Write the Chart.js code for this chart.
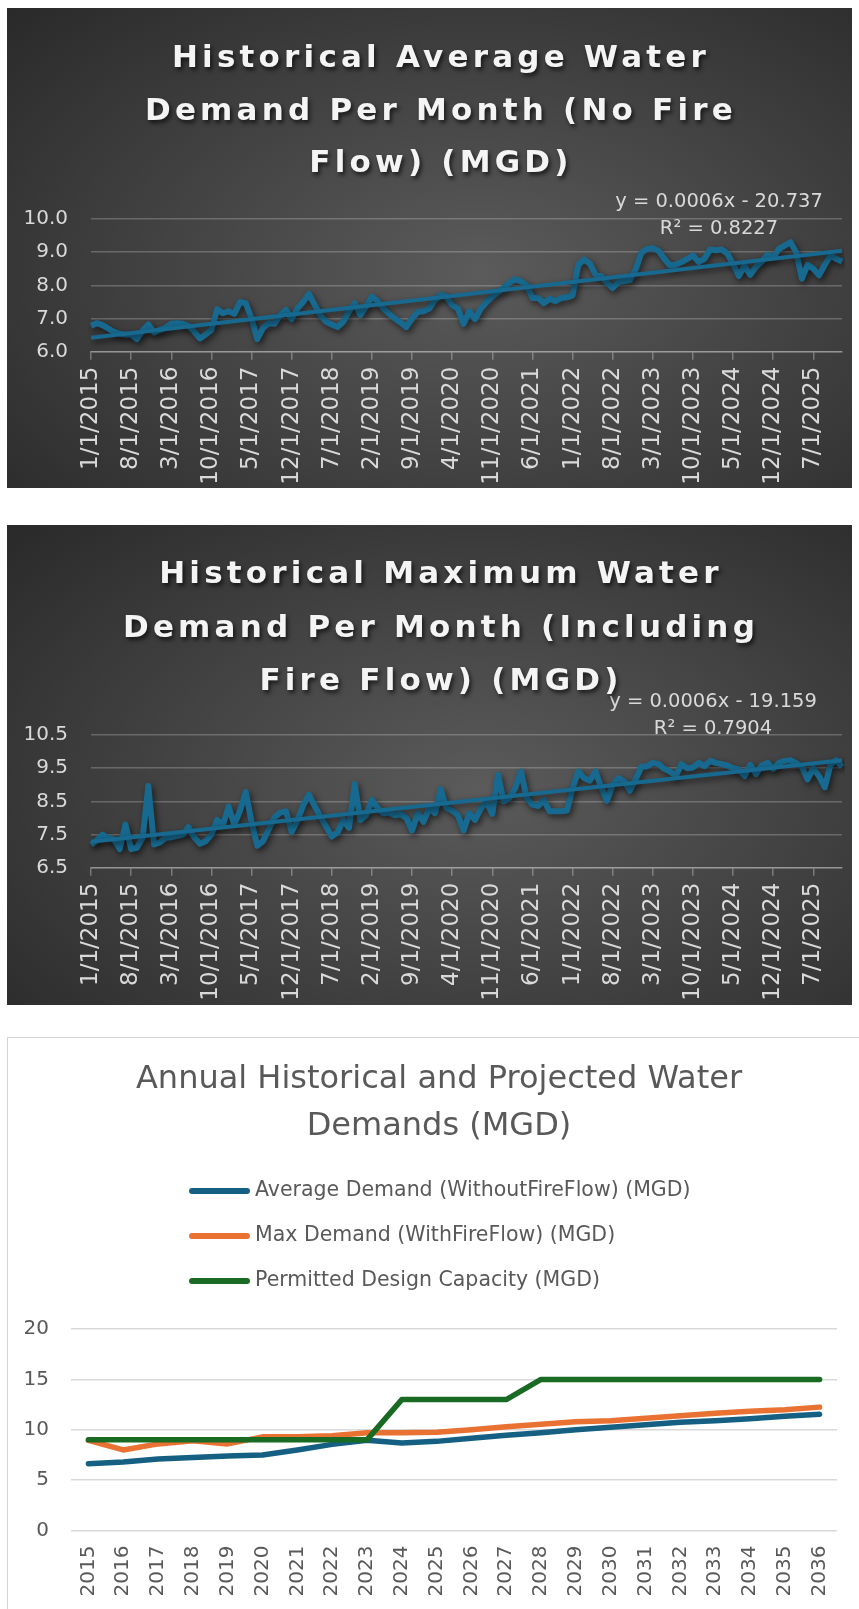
<!DOCTYPE html>
<html>
<head>
<meta charset="utf-8">
<script src="https://cdn.jsdelivr.net/npm/chart.js@4.4.1/dist/chart.umd.min.js"></script>
<style>
  html, body { margin: 0; padding: 0; background: #fff; overflow: hidden; }
  body { width: 859px; height: 1609px; position: relative; }
  .dark {
    position: absolute; left: 7px; width: 845px; height: 480px;
    background: radial-gradient(ellipse 75% 80% at 56% 55%, #5b5b5b 0%, #454545 45%, #2a2a2a 100%);
  }
  .dark canvas, #p3 canvas { position: absolute; left: 0; top: 0; }
  .dark .title {
    position: absolute; left: 23px; right: 0; text-align: center;
    color: #f4f4f4; font: bold 31px 'DejaVu Sans', sans-serif; letter-spacing: 4.2px;
    text-shadow: 2px 3px 4px rgba(0,0,0,0.65); z-index: 2;
  }
  #p1 { top: 8px; }
  #p1 .title { top: 22px; line-height: 52.5px; }
  #p2 { top: 525px; }
  #p2 .title { top: 21px; line-height: 53.5px; }
  #p3 {
    position: absolute; left: 7px; top: 1037px; width: 900px; height: 620px;
    border: 1px solid #d4d4d4; background: #fff;
  }
</style>
</head>
<body>
<div class="dark" id="p1">
  <div class="title">Historical Average Water<br>Demand Per Month (No Fire<br>Flow) (MGD)</div>
  <canvas id="avgChart" width="845" height="480"></canvas>
</div>
<div class="dark" id="p2">
  <div class="title">Historical Maximum Water<br>Demand Per Month (Including<br>Fire Flow) (MGD)</div>
  <canvas id="maxChart" width="845" height="480"></canvas>
</div>
<div id="p3">
  <canvas id="annualChart" width="851" height="571"></canvas>
</div>
<script>
// month categories 1/1/2015 .. 12/1/2025
const monthLabels = [];
for (let y = 2015; y <= 2025; y++) {
    for (let m = 1; m <= 12; m++) monthLabels.push(m + '/1/' + y);
}

const avgMonthly = [
    6.78, 6.86, 6.80, 6.70, 6.60, 6.54, 6.52, 6.52, 6.38, 6.64, 6.82, 6.58,
    6.66, 6.72, 6.84, 6.86, 6.84, 6.78, 6.60, 6.40, 6.52, 6.66, 7.28, 7.16,
    7.22, 7.14, 7.50, 7.46, 7.00, 6.38, 6.72, 6.86, 6.84, 7.10, 7.26, 6.98,
    7.30, 7.50, 7.74, 7.42, 7.10, 6.90, 6.82, 6.74, 6.90, 7.22, 7.46, 7.10,
    7.36, 7.66, 7.52, 7.30, 7.14, 7.00, 6.88, 6.74, 7.00, 7.20, 7.22, 7.30,
    7.56, 7.72, 7.66, 7.40, 7.30, 6.84, 7.22, 6.98, 7.30, 7.50, 7.66, 7.80,
    7.92, 8.08, 8.18, 8.12, 8.00, 7.62, 7.62, 7.46, 7.60, 7.52, 7.62, 7.64,
    7.70, 8.62, 8.78, 8.66, 8.32, 8.28, 8.08, 7.92, 8.10, 8.13, 8.16, 8.48,
    8.98, 9.10, 9.12, 9.04, 8.80, 8.60, 8.62, 8.70, 8.80, 8.90, 8.70, 8.80,
    9.08, 9.06, 9.08, 8.96, 8.64, 8.28, 8.58, 8.32, 8.56, 8.72, 8.92, 8.84,
    9.10, 9.20, 9.30, 9.00, 8.20, 8.62, 8.50, 8.30, 8.62, 8.90, 8.80, 8.72
];

const maxMonthly = [
    7.20, 7.32, 7.50, 7.40, 7.36, 7.06, 7.80, 7.06, 7.10, 7.40, 8.96, 7.20,
    7.26, 7.40, 7.42, 7.46, 7.50, 7.72, 7.42, 7.22, 7.30, 7.50, 7.94, 7.78,
    8.34, 7.80, 8.22, 8.78, 7.88, 7.16, 7.30, 7.66, 8.02, 8.16, 8.20, 7.58,
    7.92, 8.38, 8.70, 8.36, 8.04, 7.74, 7.44, 7.56, 7.94, 7.70, 9.02, 7.94,
    8.08, 8.54, 8.30, 8.14, 8.16, 8.08, 8.12, 8.00, 7.62, 8.14, 7.88, 8.30,
    8.14, 8.86, 8.30, 8.22, 8.08, 7.62, 8.14, 7.94, 8.30, 8.48, 8.12, 9.30,
    8.50, 8.60, 8.90, 9.40, 8.60, 8.40, 8.36, 8.54, 8.20, 8.20, 8.20, 8.22,
    8.90, 9.40, 9.20, 9.12, 9.40, 8.92, 8.52, 9.00, 9.20, 9.10, 8.82, 9.16,
    9.54, 9.56, 9.66, 9.62, 9.48, 9.40, 9.26, 9.62, 9.50, 9.52, 9.66, 9.56,
    9.72, 9.66, 9.62, 9.58, 9.50, 9.46, 9.26, 9.60, 9.32, 9.58, 9.66, 9.48,
    9.66, 9.72, 9.74, 9.66, 9.54, 9.16, 9.50, 9.26, 8.92, 9.62, 9.74, 9.54
];

// linear trendline ends (first and last month)
const avgTrend = [6.42, 9.04];
const maxTrend = [7.28, 9.74];
const avgTrendText = ['y = 0.0006x - 20.737', 'R\u00B2 = 0.8227'];
const maxTrendText = ['y = 0.0006x - 19.159', 'R\u00B2 = 0.7904'];

const avgYTicks = [6, 7, 8, 9, 10];
const maxYTicks = [6.5, 7.5, 8.5, 9.5, 10.5];
const monthTickEvery = 7;

const years = ['2015', '2016', '2017', '2018', '2019', '2020', '2021', '2022', '2023', '2024', '2025',
    '2026', '2027', '2028', '2029', '2030', '2031', '2032', '2033', '2034', '2035', '2036'];
const avgAnnual = [6.64, 6.80, 7.10, 7.25, 7.40, 7.50, 8.00, 8.55, 8.95, 8.70, 8.85,
    9.15, 9.45, 9.70, 10.00, 10.25, 10.50, 10.75, 10.90, 11.10, 11.35, 11.55];
const maxAnnual = [8.95, 8.00, 8.60, 8.90, 8.60, 9.30, 9.30, 9.40, 9.70, 9.70, 9.75,
    10.00, 10.30, 10.55, 10.80, 10.90, 11.15, 11.40, 11.65, 11.85, 12.00, 12.25];
const permitted = [9, 9, 9, 9, 9, 9, 9, 9, 9, 13, 13, 13, 13, 15, 15, 15, 15, 15, 15, 15, 15, 15];
const annualYTicks = [0, 5, 10, 15, 20];

Chart.defaults.font.family = "'DejaVu Sans', sans-serif";
Chart.defaults.animation = false;

const lineShadow = {
    id: 'lineShadow',
    beforeDatasetsDraw(chart) {
        const c = chart.ctx;
        c.save();
        c.shadowColor = 'rgba(0,0,0,0.6)';
        c.shadowBlur = 6;
        c.shadowOffsetX = 2;
        c.shadowOffsetY = 3;
    },
    afterDatasetsDraw(chart) {
        chart.ctx.restore();
    }
};

const trendLabel = {
    id: 'trendLabel',
    afterDraw(chart, args, opts) {
        const c = chart.ctx;
        c.save();
        c.font = opts.textFont;
        c.fillStyle = opts.color;
        c.textAlign = 'center';
        c.textBaseline = 'middle';
        opts.lines.forEach((t, i) => c.fillText(t, opts.x, opts.y + i * opts.gap));
        c.restore();
    }
};

const stackedLegend = {
    id: 'stackedLegend',
    afterDraw(chart, args, opts) {
        const c = chart.ctx;
        c.save();
        chart.data.datasets.forEach((ds, i) => {
            const y = opts.y + i * opts.gap;
            c.strokeStyle = ds.borderColor;
            c.lineWidth = 6;
            c.lineCap = 'round';
            c.beginPath();
            c.moveTo(opts.x, y);
            c.lineTo(opts.x + opts.sample, y);
            c.stroke();
            c.fillStyle = '#595959';
            c.font = "20.5px 'DejaVu Sans'";
            c.textAlign = 'left';
            c.textBaseline = 'middle';
            c.fillText(ds.label, opts.x + opts.sample + 8, y);
        });
        c.restore();
    }
};

function monthlyChart(id, values, trend, trendText, yTicks, top, labelPos) {
    const blue = '#17698f';
    const grid = 'rgba(255,255,255,0.22)';
    return new Chart(document.getElementById(id), {
        type: 'line',
        data: {
            labels: monthLabels,
            datasets: [
                {
                    data: values,
                    borderColor: blue,
                    borderWidth: 6,
                    borderJoinStyle: 'round',
                    pointRadius: 0,
                    tension: 0,
                    order: 1
                },
                {
                    data: [
                        { x: monthLabels[0], y: trend[0] },
                        { x: monthLabels[monthLabels.length - 1], y: trend[1] }
                    ],
                    borderColor: blue,
                    borderWidth: 4,
                    pointRadius: 0,
                    order: 0
                }
            ]
        },
        options: {
            responsive: false,
            devicePixelRatio: 1,
            layout: { padding: { top: top, left: 0, right: 10, bottom: 0 } },
            plugins: {
                legend: { display: false },
                title: { display: false },
                tooltip: { enabled: false },
                trendLabel: {
                    lines: trendText,
                    x: labelPos[0],
                    y: labelPos[1],
                    gap: 27,
                    textFont: "19.5px 'DejaVu Sans'",
                    color: '#d9d9d9'
                }
            },
            scales: {
                x: {
                    type: 'category',
                    offset: false,
                    afterBuildTicks: (scale) => {
                        scale.ticks = scale.ticks.filter(t => t.value % monthTickEvery === 0);
                    },
                    afterFit: (scale) => { scale.height = 480 - top - 132.7; },
                    grid: {
                        display: true,
                        drawOnChartArea: false,
                        drawTicks: true,
                        tickLength: 8,
                        color: 'rgba(255,255,255,0.3)',
                        lineWidth: 1.5
                    },
                    border: { display: true, color: 'rgba(255,255,255,0.3)', width: 1.5 },
                    ticks: {
                        autoSkip: false,
                        minRotation: 90,
                        maxRotation: 90,
                        color: '#d9d9d9',
                        font: { size: 23 },
                        padding: 7
                    }
                },
                y: {
                    min: yTicks[0],
                    max: yTicks[yTicks.length - 1],
                    afterBuildTicks: (scale) => { scale.ticks = yTicks.map(v => ({ value: v })); },
                    afterFit: (scale) => { scale.width = 84; },
                    grid: { color: grid, lineWidth: 1.5, drawTicks: false },
                    border: { display: false },
                    ticks: {
                        color: '#d9d9d9',
                        font: { size: 20 },
                        padding: 23,
                        callback: (v) => Number(v).toFixed(1)
                    }
                }
            }
        },
        plugins: [lineShadow, trendLabel]
    });
}

monthlyChart('avgChart', avgMonthly, avgTrend, avgTrendText, avgYTicks, 211, [712, 193.7]);
monthlyChart('maxChart', maxMonthly, maxTrend, maxTrendText, maxYTicks, 210, [706, 176.7]);

new Chart(document.getElementById('annualChart'), {
    type: 'line',
    data: {
        labels: years,
        datasets: [
            { label: 'Average Demand (WithoutFireFlow) (MGD)', data: avgAnnual, borderColor: '#156082', order: 3 },
            { label: 'Max Demand (WithFireFlow) (MGD)', data: maxAnnual, borderColor: '#E97132', order: 2 },
            { label: 'Permitted Design Capacity (MGD)', data: permitted, borderColor: '#196B24', order: 1 }
        ].map(d => Object.assign(d, { borderWidth: 5.5, pointRadius: 0, tension: 0, borderJoinStyle: 'round', borderCapStyle: 'round' }))
    },
    options: {
        responsive: false,
        devicePixelRatio: 1,
        layout: { padding: { top: 0, left: 11, right: 0, bottom: 0 } },
        plugins: {
            legend: { display: false },
            tooltip: { enabled: false },
            title: {
                display: true,
                text: ['Annual Historical and Projected Water', 'Demands (MGD)'],
                color: '#595959',
                font: { size: 32, weight: 'normal', lineHeight: 1.47 },
                padding: { top: 18.5, bottom: 178.5 }
            },
            stackedLegend: { x: 184, y: 153, gap: 45, sample: 55 }
        },
        scales: {
            x: {
                offset: true,
                afterFit: (scale) => { scale.height = 78.5; },
                grid: { display: false, drawTicks: false },
                border: { display: false },
                ticks: {
                    autoSkip: false,
                    minRotation: 90,
                    maxRotation: 90,
                    color: '#595959',
                    font: { size: 20 },
                    padding: 15
                }
            },
            y: {
                min: annualYTicks[0],
                max: annualYTicks[annualYTicks.length - 1],
                afterBuildTicks: (scale) => { scale.ticks = annualYTicks.map(v => ({ value: v })); },
                afterFit: (scale) => { scale.width = 52; },
                grid: { color: '#d9d9d9', lineWidth: 1.5, drawTicks: false },
                border: { display: false },
                ticks: { color: '#595959', font: { size: 20 }, padding: 22 }
            },
            // empty right-hand margin keeps the plot clear of the panel edge
            yRight: {
                position: 'right',
                afterFit: (scale) => { scale.width = 18; },
                grid: { display: false, drawTicks: false },
                border: { display: false },
                ticks: { display: false }
            }
        }
    },
    plugins: [stackedLegend]
});
</script>
</body>
</html>
